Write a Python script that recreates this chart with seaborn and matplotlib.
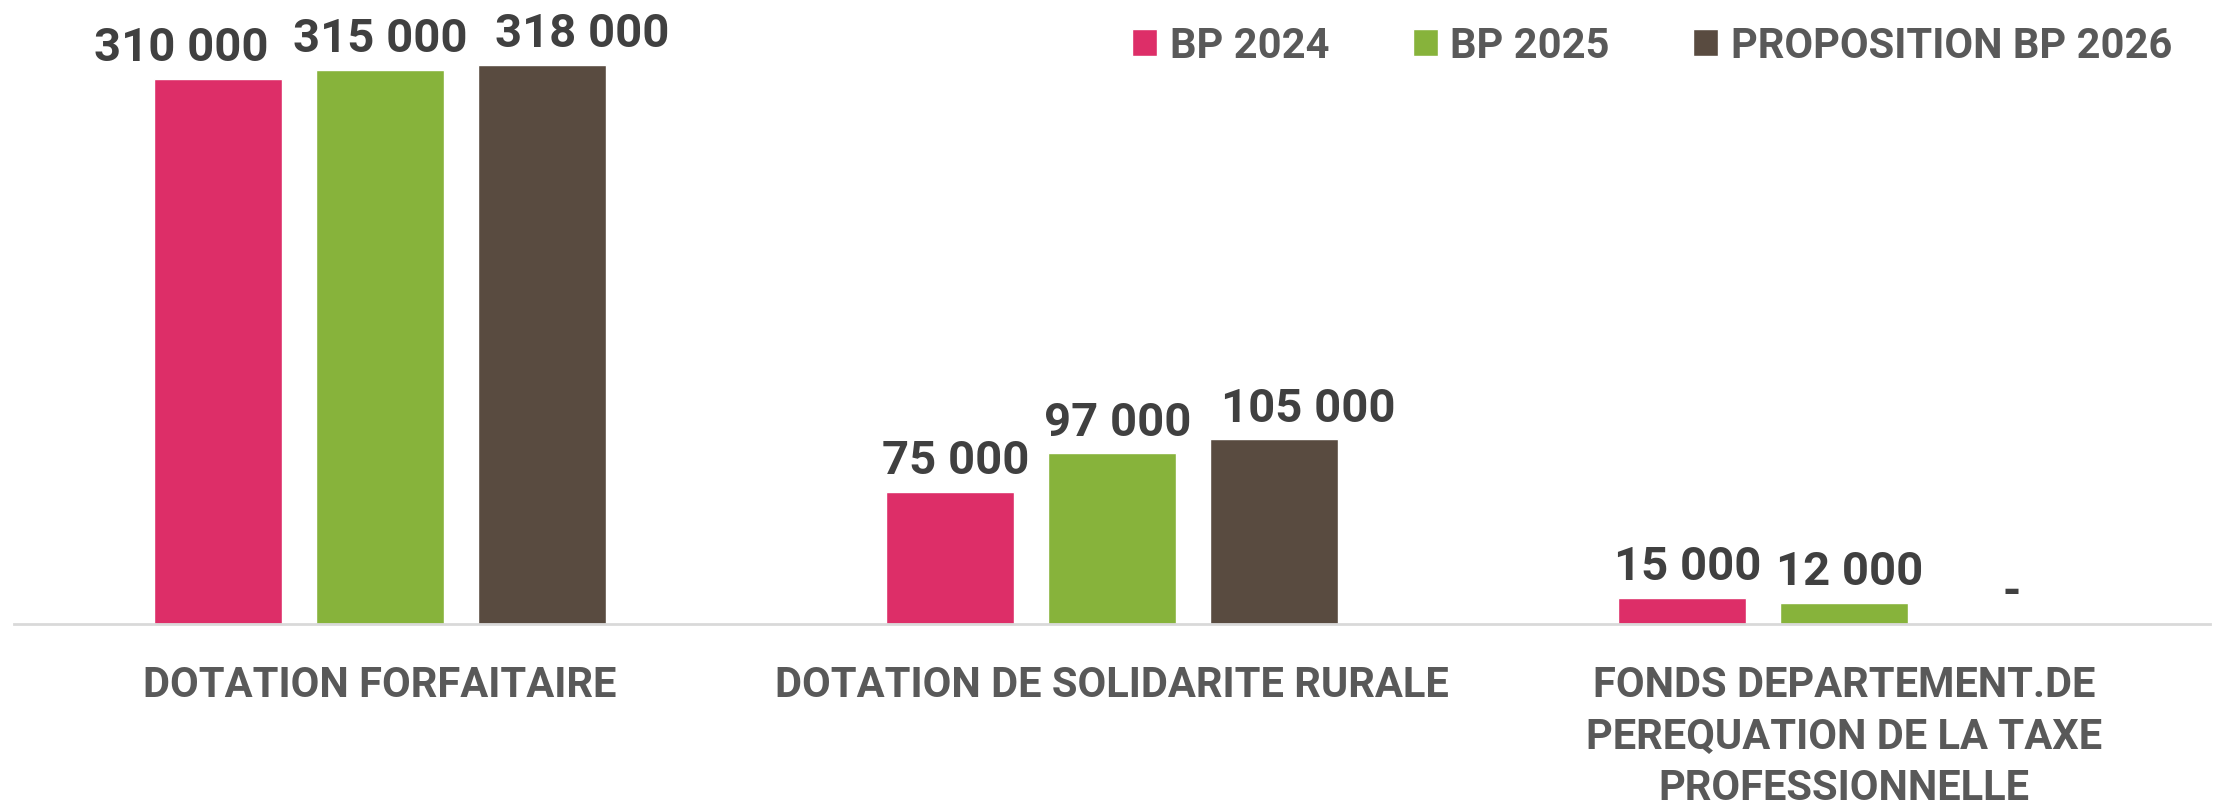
import pandas as pd
import matplotlib.pyplot as plt
import seaborn as sns

# chart values
categories = [
    "DOTATION FORFAITAIRE",
    "DOTATION DE SOLIDARITE RURALE",
    "FONDS DEPARTEMENT.DE\nPEREQUATION DE LA TAXE\nPROFESSIONNELLE",
]
series = ["BP 2024", "BP 2025", "PROPOSITION BP 2026"]
bp_2024 = [310000, 75000, 15000]
bp_2025 = [315000, 97000, 12000]
bp_2026 = [318000, 105000, 0]

colors = ["#DD2E68", "#87B33B", "#594B40"]

# horizontal nudges of the value labels (pixels), per series, per category
label_shift = [[-37, 6, 6], [0, 6, 6], [40, 34, 6]]

rows = []
for serie, vals in zip(series, [bp_2024, bp_2025, bp_2026]):
    for cat, v in zip(categories, vals):
        rows.append({"categorie": cat, "serie": serie, "montant": v})
df = pd.DataFrame(rows)

sns.set_theme(style="white")
plt.rcParams['font.family'] = ['Roboto', 'DejaVu Sans']

W, H = 2216, 803
fig = plt.figure(figsize=(W / 100, H / 100), dpi=100)
ax = fig.add_axes([14 / W, 178 / H, 2196 / W, 598 / H])

sns.barplot(data=df, x="categorie", y="montant", hue="serie", order=categories,
            hue_order=series, palette=colors, saturation=1, width=0.664, gap=0.204,
            ax=ax)

ax.set_ylim(0, 340000)
ax.set_yticks([])
ax.set_xlabel("")
ax.set_ylabel("")
for side in ["top", "left", "right"]:
    ax.spines[side].set_visible(False)
ax.spines["bottom"].set_color("#d9d9d9")
ax.spines["bottom"].set_linewidth(2)

ax.set_xticks(range(len(categories)))
ax.set_xticklabels(categories, fontweight="bold", linespacing=1.32)
ax.tick_params(axis="x", length=0, pad=29, labelsize=30, labelcolor="#595959")


def fmt(v):
    if v == 0:
        return "-"
    return f"{int(v):,}".replace(",", " ")


for cont, shifts in zip(ax.containers, label_shift):
    anns = ax.bar_label(cont, labels=[fmt(v) for v in cont.datavalues], padding=7,
                        fontsize=34, fontweight="bold", color="#404040", clip_on=False)
    for ann, dx in zip(anns, shifts):
        ann.xyann = (dx * 0.72, ann.xyann[1])

handles, labels = ax.get_legend_handles_labels()
ax.get_legend().remove()
fig.legend(handles, labels, loc="upper right", bbox_to_anchor=(2172 / W, 1 - 26 / H),
           ncol=3, frameon=False, prop={"weight": "bold", "size": 30},
           labelcolor="#595959", handlelength=0.6, handleheight=0.6,
           handletextpad=0.3, columnspacing=2.0, borderpad=0, borderaxespad=0)

fig.savefig("out.png", dpi=100)
